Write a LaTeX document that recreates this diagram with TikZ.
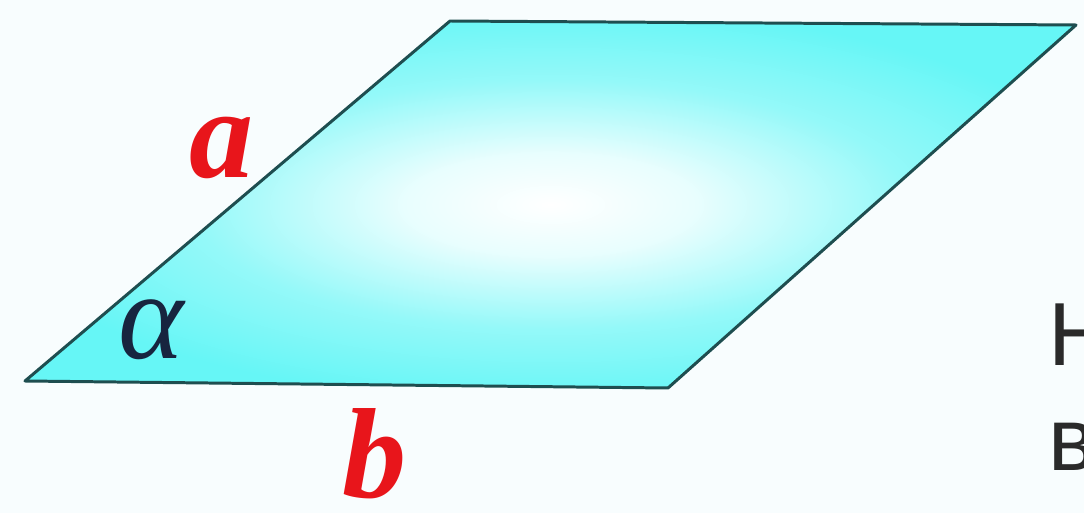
\documentclass[tikz,border=0pt]{standalone}
\usepackage{fontspec}
\setmainfont{Liberation Serif}
\newfontfamily\cyrsans{Liberation Sans}
\definecolor{Paper}{HTML}{F8FDFE}
\definecolor{Glass}{HTML}{66F6F6}
\definecolor{Rim}{HTML}{1E4E50}
\definecolor{Side}{HTML}{E8151B}
\definecolor{Ink}{HTML}{17253F}
\definecolor{Note}{HTML}{2A2A2A}
\usetikzlibrary{positioning}
\pgfdeclareradialshading{glassglow}{\pgfpoint{0bp}{0bp}}{%
  color(0bp)=(white); color(7bp)=(white!85!Glass); color(17bp)=(white!30!Glass);
  color(27bp)=(Glass); color(50bp)=(Glass)}
\tikzset{
  plate/.style={draw=Rim,line width=1.7pt,line join=round,shading=glassglow},
  sidelabel/.style={text=Side,font=\fontsize{73}{80}\selectfont\bfseries\itshape,inner sep=0pt},
  anglelabel/.style={text=Ink,font=\fontsize{71}{76}\selectfont\itshape,inner sep=0pt},
  cuttext/.style={text=Note,font=\cyrsans\fontsize{51}{56}\selectfont,inner sep=0pt,anchor=base west}
}

\begin{document}
\begin{tikzpicture}[x=0.02cm,y=-0.02cm]
  \fill[Paper] (0,0) rectangle (1084,513);
  \clip (0,0) rectangle (1084,513);
  % corners of the parallelogram
  \coordinate (A) at (25,381);
  \coordinate (B) at (668,388);
  \coordinate (C) at (1076,25);
  \coordinate (D) at (450,21);
  \shade[plate] (A) -- (B) -- (C) -- (D) -- cycle;
  \node[sidelabel] (sa) at (222,148) {a};
  \node[sidelabel] (sb) at (375,454) {b};
  \node[anglelabel] (al) at (151,330) {α};
  % text running off the right edge
  \node[cuttext] (t1) at (1048,365) {Н};
  \node[cuttext] (t2) at (1048,470) {в};
\end{tikzpicture}
\end{document}
